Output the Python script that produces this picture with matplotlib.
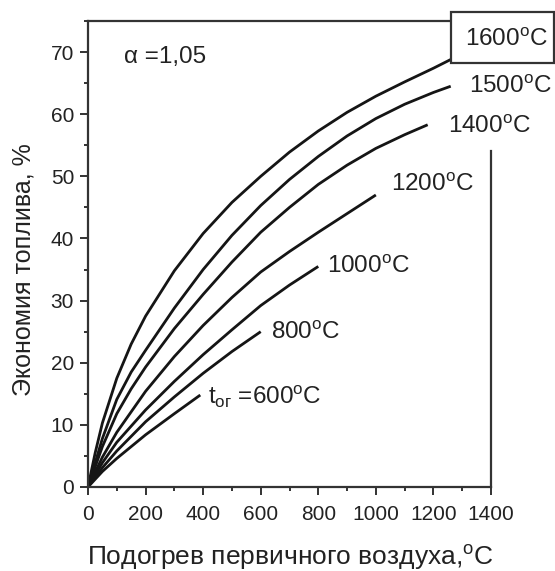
import matplotlib
matplotlib.use('Agg')
import matplotlib.pyplot as plt
from matplotlib.patches import Rectangle
from matplotlib.ticker import MultipleLocator

plt.rcParams['font.family'] = ['Liberation Sans', 'DejaVu Sans']
plt.rcParams['mathtext.fontset'] = 'custom'
plt.rcParams['mathtext.rm'] = 'Liberation Sans'
plt.rcParams['mathtext.it'] = 'Liberation Sans:italic'

# air preheat, degC  ->  fuel saving, %  (one curve per flue gas temperature)
x_600 = [0, 50, 100, 200, 300, 390]
y_600 = [0, 2.5, 4.6, 8.4, 11.8, 14.8]

x_800 = [0, 50, 100, 200, 300, 400, 500, 600]
y_800 = [0, 3.1, 5.8, 10.5, 14.5, 18.3, 21.8, 25.0]

x_1000 = [0, 50, 100, 200, 300, 400, 500, 600, 700, 800]
y_1000 = [0, 3.9, 7.2, 12.4, 17.0, 21.3, 25.3, 29.2, 32.5, 35.5]

x_1200 = [0, 50, 100, 200, 300, 400, 500, 600, 700, 800, 900, 1000]
y_1200 = [0, 4.8, 8.8, 15.4, 21.0, 26.0, 30.5, 34.6, 37.9, 41.0, 44.0, 47.0]

x_1400 = [0, 50, 100, 150, 200, 300, 400, 500, 600, 700, 800, 900, 1000, 1100, 1180]
y_1400 = [0, 6.5, 11.8, 15.8, 19.3, 25.5, 31.0, 36.2, 41.0, 45.0, 48.7, 51.8, 54.5, 56.7, 58.3]

x_1500 = [0, 50, 100, 150, 200, 300, 400, 500, 600, 700, 800, 900, 1000, 1100, 1200, 1260]
y_1500 = [0, 7.8, 14.1, 18.5, 22.0, 28.8, 35.0, 40.5, 45.3, 49.5, 53.2, 56.5, 59.3, 61.6, 63.5, 64.5]

x_1600 = [0, 25, 50, 100, 150, 200, 300, 400, 500, 600, 700, 800, 900, 1000, 1100, 1200, 1260]
y_1600 = [0, 5.5, 10.3, 17.5, 23.0, 27.5, 34.8, 40.8, 45.8, 50.0, 53.9, 57.3, 60.3, 62.9, 65.2, 67.4, 68.8]

curves = [(x_600, y_600), (x_800, y_800), (x_1000, y_1000), (x_1200, y_1200),
          (x_1400, y_1400), (x_1500, y_1500), (x_1600, y_1600)]

deg = '$^{\\rm o}$C'
ink = '#222222'
lab_fs = 17.5

fig = plt.figure(figsize=(5.55, 5.71), dpi=100)
ax = fig.add_axes([88 / 555, 1 - 487 / 571, (491 - 88) / 555, (487 - 21) / 571])

for xs, ys in curves:
    ax.plot(xs, ys, color='#151515', lw=2.0, solid_capstyle='butt', solid_joinstyle='round')

ax.set_xlim(0, 1400)
ax.set_ylim(0, 75)
ax.xaxis.set_major_locator(MultipleLocator(200))
ax.xaxis.set_minor_locator(MultipleLocator(100))
ax.set_yticks(range(0, 80, 10))
ax.yaxis.set_minor_locator(MultipleLocator(5))
ax.tick_params(which='major', direction='out', length=6, width=1.3, labelsize=15, colors=ink)
ax.tick_params(axis='x', which='major', pad=7)
ax.tick_params(axis='y', which='major', pad=4)
ax.tick_params(which='minor', direction='out', length=3, width=1.3, colors=ink)

for s in ax.spines.values():
    s.set_linewidth(1.6)
    s.set_color('#333333')
ax.spines['right'].set_bounds(0, 54)

ax.set_xlabel('Подогрев первичного воздуха,' + deg, fontsize=19, color=ink)
ax.xaxis.set_label_coords(0.503, (487 - 557) / 466)
ax.xaxis.label.set_verticalalignment('center')
ax.set_ylabel('Экономия топлива, %', fontsize=18, color=ink)
ax.yaxis.set_label_coords((24 - 88) / 403, (487 - 270) / 466)
ax.yaxis.label.set_verticalalignment('center')

# curve labels
ax.text(125, 69.2, 'α =1,05', fontsize=lab_fs, va='center', ha='left', color=ink)
ax.text(417, 14.5, 't$_{\\rm ог}$ =600' + deg, fontsize=lab_fs, va='center', ha='left', color=ink)
ax.text(636, 24.8, '800' + deg, fontsize=lab_fs, va='center', ha='left', color=ink)
ax.text(830, 35.4, '1000' + deg, fontsize=lab_fs, va='center', ha='left', color=ink)
ax.text(1052, 48.6, '1200' + deg, fontsize=lab_fs, va='center', ha='left', color=ink)
ax.text(1250, 58.0, '1400' + deg, fontsize=lab_fs, va='center', ha='left', color=ink, clip_on=False)
ax.text(1323, 64.4, '1500' + deg, fontsize=lab_fs, va='center', ha='left', color=ink, clip_on=False)

# boxed label for the top curve
box = Rectangle((451 / 555, 1 - 63 / 571), 103 / 555, 51 / 571, transform=fig.transFigure,
                facecolor='white', edgecolor='#333333', lw=1.6, zorder=10)
fig.patches.append(box)
fig.text(506 / 555, 1 - 40 / 571, '1600' + deg, fontsize=lab_fs, ha='center', va='center',
         color=ink, zorder=11)

fig.savefig('out.png', dpi=100)
